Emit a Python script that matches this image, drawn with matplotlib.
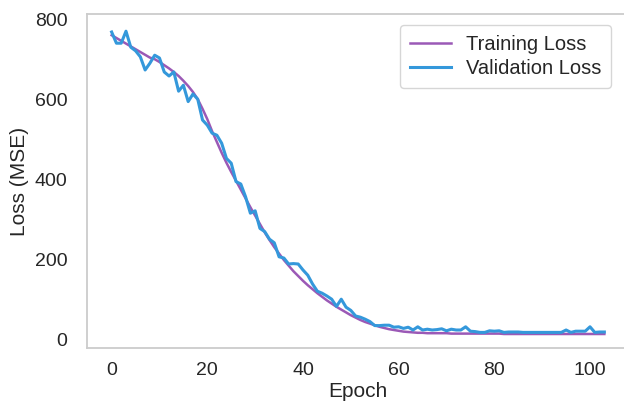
import numpy as np
import matplotlib
matplotlib.use("Agg")
import matplotlib.pyplot as plt

plt.rcParams['font.family'] = ['Liberation Sans', 'DejaVu Sans']
plt.rcParams['text.color'] = '#262626'
plt.rcParams['axes.labelcolor'] = '#262626'
plt.rcParams['xtick.color'] = '#262626'
plt.rcParams['ytick.color'] = '#262626'

epochs = np.arange(104)

train_loss = [
    762, 755, 748, 741, 734, 727, 720, 713, 706, 702,
    695, 687, 679, 670, 660, 648, 635, 620, 602, 578,
    552, 522, 495, 468, 443, 420, 398, 376, 354, 332,
    311, 290, 269, 250, 232, 216, 200, 186, 172, 160,
    148, 137, 127, 117, 108, 99, 91, 83, 76, 69,
    62, 56, 50, 45, 41, 37, 33, 30, 27, 25,
    23, 21, 20, 19, 18, 18, 17, 17, 17, 17,
    17, 16, 16, 16, 16, 16, 16, 16, 16, 16,
    16, 16, 15, 15, 15, 15, 15, 15, 15, 15,
    15, 15, 15, 15, 15, 15, 15, 15, 15, 15,
    15, 15, 15, 15,
]

val_loss = [
    770, 742, 742, 772, 732, 723, 708, 675, 692, 712,
    705, 670, 660, 670, 622, 637, 596, 615, 602, 550,
    537, 517, 512, 492, 454, 442, 396, 390, 358, 317,
    323, 279, 271, 252, 243, 208, 205, 190, 191, 190,
    175, 162, 140, 122, 117, 110, 102, 84, 102, 82,
    74, 60, 57, 52, 46, 36, 36, 37, 37, 32,
    33, 29, 32, 25, 33, 25, 27, 25, 26, 28,
    23, 27, 25, 25, 33, 22, 21, 19, 19, 23,
    22, 23, 19, 20, 20, 20, 19, 19, 19, 19,
    19, 19, 19, 19, 19, 25, 19, 22, 22, 22,
    33, 19, 20, 20,
]

fig = plt.figure(figsize=(6.24, 4.09), dpi=100)
ax = fig.add_axes([87 / 624, 61 / 409, 542 / 624, 334 / 409])

ax.plot(epochs, train_loss, color='#9b59b6', lw=1.8, label='Training Loss')
ax.plot(epochs, val_loss, color='#3498db', lw=2.2, label='Validation Loss')

ax.set_xlim(-5.15, 108.15)
ax.set_ylim(-20, 815)
ax.set_xticks([0, 20, 40, 60, 80, 100])
ax.set_yticks([0, 200, 400, 600, 800])
ax.tick_params(length=0, labelsize=14)
ax.tick_params(axis='y', pad=14)
ax.tick_params(axis='x', pad=10)

for s in ax.spines.values():
    s.set_color('#cccccc')
    s.set_linewidth(1.3)
ax.spines['right'].set_visible(False)

ax.set_xlabel('Epoch', fontsize=15, labelpad=2)
ax.set_ylabel('Loss (MSE)', fontsize=15, labelpad=4)

leg = ax.legend(loc='upper right', fontsize=14.5, frameon=True,
                bbox_to_anchor=(0.967, 0.967), borderaxespad=0,
                handlelength=2.0, handletextpad=0.75,
                borderpad=0.5, labelspacing=0.25)
leg.get_frame().set_edgecolor('#cccccc')

fig.savefig('out.png', dpi=100)
